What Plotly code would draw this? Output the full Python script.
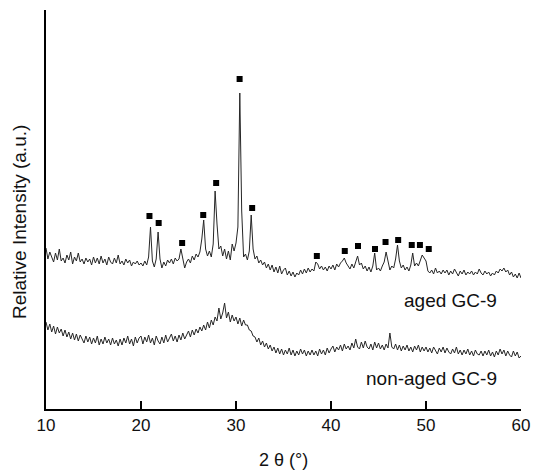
import numpy as np
import plotly.graph_objects as go

# 2-theta grid (degrees), 0.2 deg step
two_theta = [round(10 + 0.2 * i, 1) for i in range(251)]

aged = [
    161, 150, 157, 151, 147, 156, 149, 160, 148, 151,
    146, 154, 149, 157, 145, 152, 148, 156, 147, 150,
    145, 151, 147, 150, 144, 152, 146, 151, 145, 153,
    146, 150, 144, 152, 147, 145, 151, 146, 154, 145,
    148, 144, 150, 146, 149, 143, 147, 145, 148, 144,
    146, 143, 148, 144, 152, 182, 148, 142, 150, 177,
    150, 141, 147, 143, 149, 146, 150, 145, 151, 148,
    150, 160, 152, 141, 147, 150, 146, 153, 149, 155,
    152, 157, 170, 189, 160, 153, 158, 152, 165, 218,
    185, 160, 163, 153, 160, 150, 158, 149, 165, 158,
    166, 182, 316, 198, 152, 155, 149, 158, 194, 160,
    150, 153, 146, 149, 144, 147, 141, 145, 139, 144,
    137, 142, 136, 143, 135, 139, 141, 134, 138, 133,
    137, 132, 136, 134, 139, 135, 140, 136, 141, 137,
    140, 138, 147, 145, 140, 143, 139, 142, 138, 143,
    140, 144, 139, 145, 142, 146, 148, 151, 146, 143,
    140, 145, 141, 147, 153, 144, 146, 140, 143, 138,
    142, 137, 143, 156, 139, 141, 138, 143, 147, 157,
    146, 139, 143, 141, 150, 164, 148, 141, 144, 139,
    142, 138, 144, 156, 143, 146, 143, 149, 154, 151,
    148, 138, 136, 139, 135, 141, 136, 138, 135, 139,
    136, 139, 134, 138, 135, 140, 136, 133, 138, 135,
    139, 134, 137, 135, 138, 134, 137, 135, 140, 136,
    134, 138, 135, 137, 133, 136, 134, 138, 136, 140,
    138, 141, 137, 139, 134, 137, 132, 135, 131, 136,
    131,
]

non_aged = [
    87, 79, 85, 77, 83, 75, 82, 76, 80, 73,
    79, 72, 77, 70, 76, 69, 75, 68, 74, 69,
    66, 73, 67, 72, 65, 71, 66, 73, 64, 70,
    65, 72, 66, 70, 64, 71, 65, 69, 63, 70,
    64, 71, 66, 73, 65, 70, 63, 72, 66, 71,
    73, 65, 72, 67, 74, 66, 71, 64, 73, 68,
    65, 72, 66, 74, 67, 71, 75, 68, 73, 67,
    74, 69, 76, 70, 75, 78, 72, 79, 74, 80,
    76, 82, 78, 84, 79, 87, 81, 89, 84, 92,
    88, 101, 90, 96, 106, 91, 97, 87, 94, 88,
    92, 85, 91, 83, 89, 84, 84, 79, 78, 73,
    72, 67, 71, 64, 68, 62, 66, 60, 64, 58,
    62, 56, 61, 55, 60, 54, 59, 55, 61, 54,
    59, 53, 58, 54, 60, 55, 59, 53, 58, 54,
    59, 54, 58, 53, 60, 55, 59, 54, 61, 56,
    60, 63, 57, 62, 59, 64, 58, 65, 60, 63,
    59, 66, 61, 70, 62, 60, 67, 61, 68, 62,
    60, 65, 59, 67, 61, 66, 60, 64, 59, 65,
    61, 76, 62, 60, 65, 59, 64, 58, 63, 59,
    64, 58, 62, 57, 63, 59, 64, 57, 62, 58,
    62, 57, 61, 56, 62, 58, 55, 61, 57, 62,
    56, 61, 57, 55, 60, 56, 62, 55, 59, 54,
    59, 55, 60, 54, 58, 53, 59, 55, 54, 58,
    53, 58, 54, 59, 53, 57, 52, 58, 54, 60,
    55, 59, 53, 58, 54, 52, 58, 53, 57, 51,
    53,
]

# Phase markers (filled squares) above reflections
marker_theta = [20.89, 21.86, 24.33, 26.55, 27.91, 30.38, 31.70, 38.51,
                41.45, 42.84, 44.63, 45.74, 47.07, 48.50, 49.36, 50.29]
marker_int = [193, 186, 166, 194, 226, 330, 201, 153,
              158, 163, 160, 167, 169, 164, 164, 160]

x_ticks = [10, 20, 30, 40, 50, 60]

FONT = "Liberation Sans, Arial, Helvetica, sans-serif"
LINE = "#262626"

fig = go.Figure()
fig.add_trace(go.Scatter(x=two_theta, y=aged, mode="lines",
                         line=dict(color=LINE, width=1), showlegend=False))
fig.add_trace(go.Scatter(x=two_theta, y=non_aged, mode="lines",
                         line=dict(color=LINE, width=1), showlegend=False))
fig.add_trace(go.Scatter(x=marker_theta, y=marker_int, mode="markers",
                         marker=dict(symbol="square", size=6, color="black"),
                         showlegend=False))

fig.add_annotation(x=57.7, y=109, xref="x", yref="y", text="aged GC-9",
                   showarrow=False, xanchor="right", yanchor="middle",
                   font=dict(family=FONT, size=19, color="#111"))
fig.add_annotation(x=57.7, y=31, xref="x", yref="y", text="non-aged GC-9",
                   showarrow=False, xanchor="right", yanchor="middle",
                   font=dict(family=FONT, size=19, color="#111"))
fig.add_annotation(x=-0.0547, y=0.4687, xref="paper", yref="paper",
                   text="Relative Intensity (a.u.)", textangle=-90,
                   showarrow=False, xanchor="center", yanchor="middle",
                   font=dict(family=FONT, size=19, color="#111"))
fig.add_annotation(x=0.499, y=-0.128, xref="paper", yref="paper",
                   text="2 θ (°)", showarrow=False,
                   xanchor="center", yanchor="middle",
                   font=dict(family=FONT, size=18, color="#111"))

fig.update_layout(
    width=533, height=475,
    margin=dict(l=46, r=12, t=10, b=66, autoexpand=False),
    paper_bgcolor="white", plot_bgcolor="white",
    xaxis=dict(range=[10, 60], tickvals=x_ticks, ticks="inside", ticklen=8,
               tickwidth=1.5, tickcolor="black", showline=True, linecolor="black",
               linewidth=1.5, showgrid=False, zeroline=False, automargin=False,
               tickfont=dict(family=FONT, size=17, color="#111")),
    yaxis=dict(range=[0, 399], showticklabels=False, ticks="", showline=True,
               linecolor="black", linewidth=1.5, showgrid=False, zeroline=False,
               automargin=False),
)

# remove the default page margin so the 533x475 figure fills the window exactly
fig.write_html(
    "out.html",
    config={"displayModeBar": False},
    post_script="document.body.style.margin='0';document.body.style.overflow='hidden';",
)
